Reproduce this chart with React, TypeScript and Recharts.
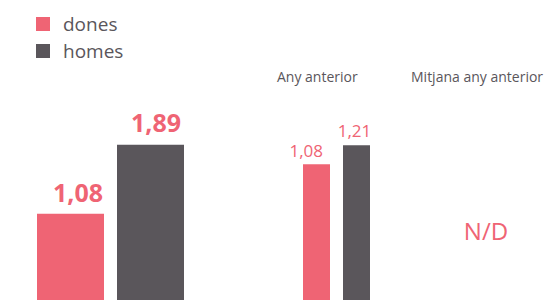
import React from "react";
import { BarChart, Bar, XAxis, YAxis, Legend, LabelList } from "recharts";

// values
const seriesNames = ["dones", "homes"];
const currentYear = [{ name: "actual", dones: 1.08, homes: 1.89 }];
const previousYear = [{ name: "Any anterior", dones: 1.08, homes: 1.21 }];
const previousAverageLabel = "Mitjana any anterior";
const previousAverageValue = "N/D";

const PINK = "#ef6474";
const DARK = "#5a565b";
const GREY_TEXT = "#5a565b";
const FONT = "'Open Sans', 'Noto Sans', sans-serif";

const fmt = (v: number) => v.toFixed(2).replace(".", ",");

const makeLabel =
  (fontSize: number, weight: number, anchor: "end" | "middle", dx: number, dy: number) =>
  (props: any) => {
    const { x, y, width, value } = props;
    const tx = anchor === "end" ? x + width - dx : x + width / 2 - dx;
    return (
      <text
        x={tx}
        y={y - dy}
        textAnchor={anchor}
        fill={PINK}
        fontSize={fontSize}
        fontWeight={weight}
        fontFamily={FONT}
      >
        {fmt(value)}
      </text>
    );
  };

const LegendContent = () => (
  <svg width={160} height={70}>
    {seriesNames.map((n, i) => (
      <g key={n}>
        <rect x={36} y={17 + i * 27} width={14} height={14} fill={i === 0 ? PINK : DARK} />
        <text x={63} y={31 + i * 27} fontSize={19} fill={GREY_TEXT} fontFamily={FONT}>
          {n}
        </text>
      </g>
    ))}
  </svg>
);

export default function App() {
  return (
    <div
      style={{
        position: "absolute",
        left: 0,
        top: 0,
        width: 549,
        height: 300,
        overflow: "hidden",
        fontFamily: FONT,
        background: "#fff",
      }}
    >
      <BarChart
        width={200}
        height={320}
        data={currentYear}
        margin={{ top: 50, right: 15, bottom: 14, left: 35 }}
        barCategoryGap={0}
        barGap={13}
        style={{ position: "absolute", left: 0, top: 0 }}
      >
        <XAxis dataKey="name" hide />
        <YAxis hide domain={[0, 3]} />
        <Legend
          layout="horizontal"
          verticalAlign="middle"
          align="center"
          content={<LegendContent />}
          wrapperStyle={{ top: 0, left: 0, width: 160, height: 70 }}
        />
        <Bar dataKey="dones" fill={PINK} barSize={67} isAnimationActive={false}>
          <LabelList dataKey="dones" content={makeLabel(25, 700, "end", 1, 12)} />
        </Bar>
        <Bar dataKey="homes" fill={DARK} barSize={67} isAnimationActive={false}>
          <LabelList dataKey="homes" content={makeLabel(25, 700, "end", 3, 13)} />
        </Bar>
      </BarChart>

      <BarChart
        width={150}
        height={330}
        data={previousYear}
        margin={{ top: 30, right: 19, bottom: 8, left: 62 }}
        barCategoryGap={0}
        barGap={13}
        style={{ position: "absolute", left: 240, top: 0 }}
      >
        <XAxis dataKey="name" hide />
        <YAxis hide domain={[0, 2]} />
        <Bar dataKey="dones" fill={PINK} barSize={27} isAnimationActive={false}>
          <LabelList dataKey="dones" content={makeLabel(17, 400, "end", 7, 7)} />
        </Bar>
        <Bar dataKey="homes" fill={DARK} barSize={27} isAnimationActive={false}>
          <LabelList dataKey="homes" content={makeLabel(17, 400, "middle", 2, 8)} />
        </Bar>
      </BarChart>

      <svg width={549} height={300} style={{ position: "absolute", left: 0, top: 0, pointerEvents: "none" }}>
        <text x={277} y={82} fontSize={14} fill={GREY_TEXT} fontFamily={FONT}>
          {previousYear[0].name}
        </text>
        <text x={411} y={82} fontSize={14} fill={GREY_TEXT} fontFamily={FONT}>
          {previousAverageLabel}
        </text>
        <text x={486} y={240} fontSize={24} fill={PINK} textAnchor="middle" fontFamily={FONT}>
          {previousAverageValue}
        </text>
      </svg>
    </div>
  );
}
